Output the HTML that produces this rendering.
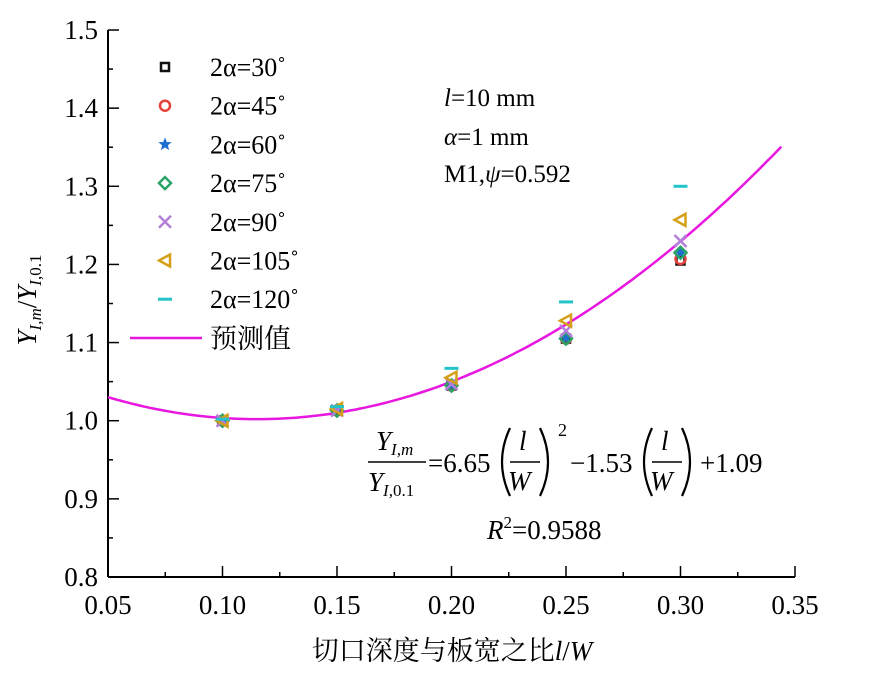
<!DOCTYPE html>
<html><head><meta charset="utf-8"><style>
body{margin:0;background:#fff}
svg, svg text, svg tspan{font-family:"Liberation Serif","Noto Serif CJK SC",serif !important}
</style></head><body>
<svg id="c" width="883" height="677" viewBox="0 0 883 677">
<g id="axes"></g>
<g id="curve"></g>
<g id="pts"></g>
<g id="legend"></g>
<g font-size="25" fill="#000">
<text x="444" y="106"><tspan font-style="italic">l</tspan>=10 mm</text>
<text x="444" y="145"><tspan font-style="italic">α</tspan>=1 mm</text>
<text x="444" y="182">M1,<tspan font-style="italic">ψ</tspan>=0.592</text>
</g>
<g font-size="27" fill="#000">
<text x="376" y="450" font-style="italic">Y<tspan font-size="17" dy="5">I,m</tspan></text>
<line x1="368" y1="462" x2="426" y2="462" stroke="#000" stroke-width="1.5"/>
<text x="368" y="491" font-style="italic">Y<tspan font-size="17" dy="5">I,<tspan font-style="normal">0.1</tspan></tspan></text>
<text x="428" y="472">=6.65</text>
<path d="M510,428 Q494,462 510,496" fill="none" stroke="#000" stroke-width="2.2"/>
<text x="519" y="450" font-style="italic">l</text>
<line x1="510" y1="462" x2="540" y2="462" stroke="#000" stroke-width="1.5"/>
<text x="508" y="490" font-style="italic">W</text>
<path d="M540,428 Q556,462 540,496" fill="none" stroke="#000" stroke-width="2.2"/>
<text x="558" y="436" font-size="18">2</text>
<text x="570" y="472">−1.53</text>
<path d="M652,428 Q636,462 652,496" fill="none" stroke="#000" stroke-width="2.2"/>
<text x="661" y="450" font-style="italic">l</text>
<line x1="652" y1="462" x2="682" y2="462" stroke="#000" stroke-width="1.5"/>
<text x="650" y="490" font-style="italic">W</text>
<path d="M682,428 Q698,462 682,496" fill="none" stroke="#000" stroke-width="2.2"/>
<text x="700" y="472">+1.09</text>
<text x="487" y="539"><tspan font-style="italic">R</tspan><tspan font-size="17" dy="-11">2</tspan><tspan dy="11">=0.9588</tspan></text>
</g>
<text x="452" y="660" font-size="27" text-anchor="middle">切口深度与板宽之比<tspan font-style="italic">l</tspan>/<tspan font-style="italic">W</tspan></text>
<text transform="translate(36,300) rotate(-90)" font-size="27" text-anchor="middle"><tspan font-style="italic">Y</tspan><tspan font-size="17" font-style="italic" dy="5">I,m</tspan><tspan dy="-5">/</tspan><tspan font-style="italic">Y</tspan><tspan font-size="17" dy="5"><tspan font-style="italic">I</tspan>,0.1</tspan></text>
</svg>
<script>
const xCats=[0.10,0.15,0.20,0.25,0.30];
const s30=[1.000,1.013,1.045,1.105,1.205];
const s45=[1.000,1.013,1.045,1.105,1.207];
const s60=[1.000,1.014,1.046,1.106,1.215];
const s75=[1.000,1.013,1.045,1.105,1.215];
const s90=[1.000,1.013,1.047,1.115,1.230];
const s105=[1.000,1.015,1.055,1.128,1.257];
const s120=[1.002,1.018,1.067,1.152,1.300];
const coef=[6.65,-1.53,1.09];
const xTicks=[0.05,0.10,0.15,0.20,0.25,0.30,0.35];
const yTicks=[0.8,0.9,1.0,1.1,1.2,1.3,1.4,1.5];
const labels=["2α=30˚","2α=45˚","2α=60˚","2α=75˚","2α=90˚","2α=105˚","2α=120˚"];
const NS="http://www.w3.org/2000/svg";
const FF='"Liberation Serif", "Noto Serif CJK SC", serif';
const X=v=>108+(v-0.05)/0.30*687;
const Y=v=>577-(v-0.8)/0.7*547;
function mk(t,a,p){const e=document.createElementNS(NS,t);for(const k in a)e.setAttribute(k,a[k]);p.appendChild(e);return e;}
function txt(a,p,s){const t=mk('text',a,p);t.style.fontFamily=FF;t.textContent=s;return t;}
const ax=document.getElementById('axes');
let e=mk('line',{x1:108,y1:577,x2:795,y2:577,stroke:'#000','stroke-width':2},ax);

e=mk('line',{x1:108,y1:577,x2:108,y2:30,stroke:'#000','stroke-width':2},ax);

xTicks.forEach((v,i)=>{
 mk('line',{x1:X(v),y1:577,x2:X(v),y2:566,stroke:'#000','stroke-width':1.5},ax);
 if(i<xTicks.length-1)mk('line',{x1:X(v+0.025),y1:577,x2:X(v+0.025),y2:572,stroke:'#000','stroke-width':1.5},ax);
 const t=txt({x:X(v),y:614,'font-size':27,'text-anchor':'middle'},ax,v.toFixed(2));
 
});
yTicks.forEach((v,i)=>{
 mk('line',{x1:108,y1:Y(v),x2:119,y2:Y(v),stroke:'#000','stroke-width':1.5},ax);
 if(i<yTicks.length-1)mk('line',{x1:108,y1:Y(v+0.05),x2:113,y2:Y(v+0.05),stroke:'#000','stroke-width':1.5},ax);
 const t=txt({x:98,y:Y(v)+9,'font-size':27,'text-anchor':'end'},ax,v.toFixed(1));
 
});
let d='';for(let x=0.05;x<=0.3455;x+=0.002){const y=coef[0]*x*x+coef[1]*x+coef[2];d+=(d?'L':'M')+X(x).toFixed(1)+','+Y(y).toFixed(1);}
e=mk('path',{d:d,fill:'none',stroke:'#e817e0','stroke-width':2.5},document.getElementById('curve'));

const colors=['#111','#e8403a','#1f6fd1','#2aa36a','#b27fd9','#d4a017','#22c4c9'];
function marker(k,cx,cy,g){
 const c=colors[k];
 if(k==0)return mk('rect',{x:cx-4,y:cy-4,width:8,height:8,fill:'none',stroke:c,'stroke-width':2.5},g);
 if(k==1)return mk('circle',{cx,cy,r:5,fill:'none',stroke:c,'stroke-width':2.5},g);
 if(k==2){let p='';for(let i=0;i<10;i++){const r=i%2?3:7,a=-Math.PI/2+i*Math.PI/5;p+=(cx+r*Math.cos(a)).toFixed(1)+','+(cy+r*Math.sin(a)).toFixed(1)+' ';}return mk('polygon',{points:p,fill:c},g);}
 if(k==3)return mk('polygon',{points:`${cx},${cy-6} ${cx+6},${cy} ${cx},${cy+6} ${cx-6},${cy}`,fill:'none',stroke:c,'stroke-width':2.5},g);
 if(k==4)return mk('path',{d:`M${cx-6},${cy-6}L${cx+6},${cy+6}M${cx+6},${cy-6}L${cx-6},${cy+6}`,stroke:c,'stroke-width':2.5},g);
 if(k==5)return mk('polygon',{points:`${cx-6},${cy} ${cx+5},${cy-6} ${cx+5},${cy+6}`,fill:'none',stroke:c,'stroke-width':2.5},g);
 return mk('line',{x1:cx-7,y1:cy,x2:cx+7,y2:cy,stroke:c,'stroke-width':3},g);
}
const series=[s30,s45,s60,s75,s90,s105,s120];
const pg=document.getElementById('pts');
series.forEach((s,k)=>{s.forEach((v,i)=>{const m=marker(k,X(xCats[i]),Y(v),pg);
 });});
const lg=document.getElementById('legend');
labels.forEach((l,k)=>{const cy=67+k*38.7;const m=marker(k,165,cy,lg);
 
 const t=txt({x:210,y:cy+9,'font-size':26},lg,l);
 });
e=mk('line',{x1:130,y1:338,x2:202,y2:338,stroke:'#e817e0','stroke-width':2.5},lg);

e=txt({x:210,y:348,'font-size':27},lg,'预测值');

</script>
</body></html>
